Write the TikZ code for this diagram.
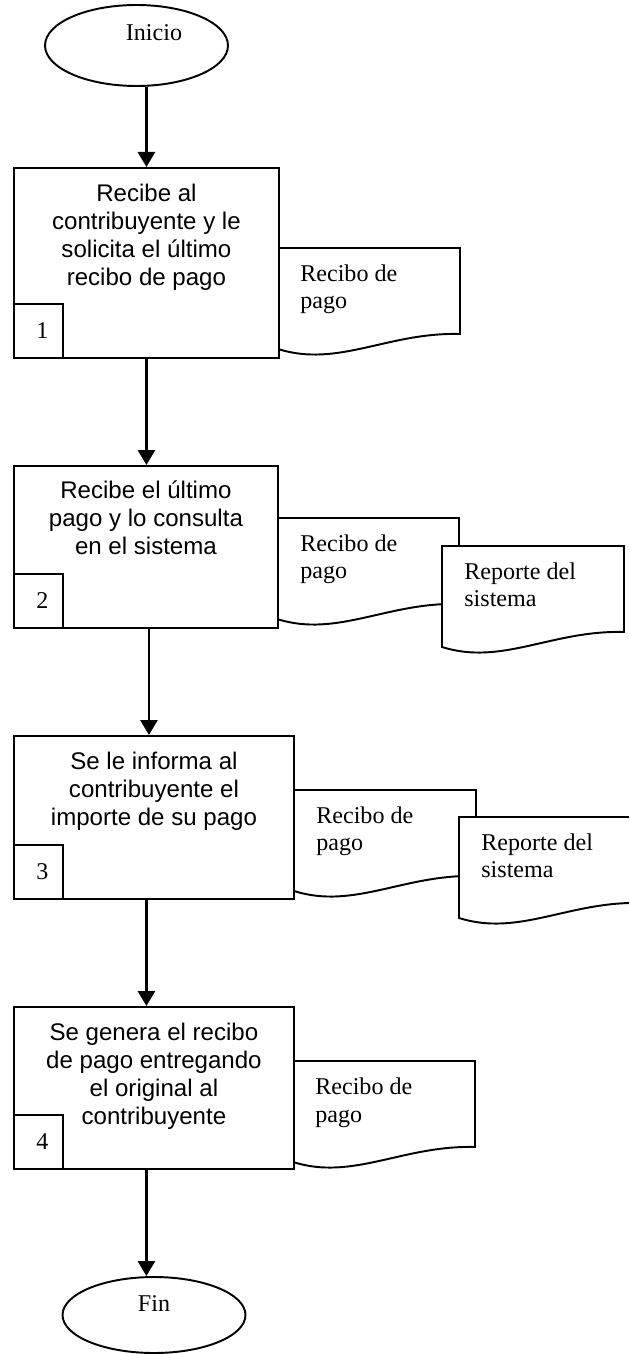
\documentclass[tikz,border=0pt]{standalone}
\usepackage{fontspec}
\setmainfont{Liberation Serif}
\newfontfamily\arialfont{Liberation Sans}
\usetikzlibrary{positioning,shapes.geometric,arrows.meta}

\begin{document}
\begin{tikzpicture}[x=0.02cm,y=-0.02cm,
  every node/.style={font=\fontsize{13.7}{15.9}\selectfont},
  terminal/.style={draw,line width=1.1pt,ellipse,minimum width=3.66cm,inner sep=0pt},
  proc/.style={draw,line width=1.1pt,fill=white,anchor=north west,inner sep=0pt},
  proctext/.style={font=\arialfont\fontsize{13.7}{15.9}\selectfont,align=center,inner sep=0pt},
  numbox/.style={draw,line width=1.1pt,anchor=south west,minimum width=0.98cm,minimum height=1.08cm,inner sep=0pt},
  doc/.style={draw,line width=1.1pt,fill=white},
  doctext/.style={align=left,anchor=north west,inner sep=0pt},
  flow/.style={line width=1.6pt,-{Triangle[width=0.34cm,length=0.3cm]}}]
\useasboundingbox (0,0) rectangle (629,1354);
\clip (0,0) rectangle (629,1354);

\node[terminal,minimum height=1.62cm] (inicio) at (136.5,45.5) {};
\node (inicio-txt) at (154,33) {Inicio};

\foreach \x/\y in {278/248, 277/518, 442/546, 294/790, 459/817, 293/1061}
  \draw[doc] (\x,\y+101) .. controls (\x+60,\y+120) and (\x+110,\y+84) .. (\x+182,\y+86)
    -- (\x+182,\y) -- (\x,\y) -- cycle;

\node[doctext] (d1) at (300,264) {Recibo de\\pago};
\node[doctext] (d2a) at (300,534) {Recibo de\\pago};
\node[doctext] (d2b) at (464,562) {Reporte del\\sistema};
\node[doctext] (d3a) at (316,806) {Recibo de\\pago};
\node[doctext] (d3b) at (481,833) {Reporte del\\sistema};
\node[doctext] (d4) at (315,1077) {Recibo de\\pago};

\node[proc,minimum width=5.3cm,minimum height=3.8cm] (p1) at (13,167) {};
\node[proctext,below=0.33cm of p1.north] (t1) {Recibe al\\contribuyente y le\\solicita el último\\recibo de pago};
\node[numbox] (n1) at (p1.south west) {\hspace*{0.16cm}1};

\node[proc,minimum width=5.28cm,minimum height=3.24cm] (p2) at (13,465) {};
\node[proctext,below=0.31cm of p2.north] (t2) {Recibe el último\\pago y lo consulta\\en el sistema};
\node[numbox] (n2) at (p2.south west) {\hspace*{0.16cm}2};

\node[proc,minimum width=5.6cm,minimum height=3.26cm] (p3) at (13,735) {};
\node[proctext,below=0.33cm of p3.north] (t3) {Se le informa al\\contribuyente el\\importe de su pago};
\node[numbox] (n3) at (p3.south west) {\hspace*{0.16cm}3};

\node[proc,minimum width=5.6cm,minimum height=3.24cm] (p4) at (13,1006) {};
\node[proctext,below=0.33cm of p4.north] (t4) {Se genera el recibo\\de pago entregando\\el original al\\contribuyente};
\node[numbox] (n4) at (p4.south west) {\hspace*{0.16cm}4};

\node[terminal,minimum height=1.52cm] (fin) at (154,1315) {};
\node (fin-txt) at (154,1303.5) {Fin};

\draw[flow] (p1.north |- inicio.south) -- (p1.north);
\draw[flow] (p1.south) -- (p1.south |- p2.north);
\draw[flow] ([xshift=0.06cm]p2.south) -- ([xshift=0.06cm]p2.south |- p3.north);
\draw[flow] (p3.south -| p1.south) -- (p4.north -| p1.south);
\draw[flow] (p4.south -| p1.south) -- (p1.south |- fin.north);
\end{tikzpicture}
\end{document}
